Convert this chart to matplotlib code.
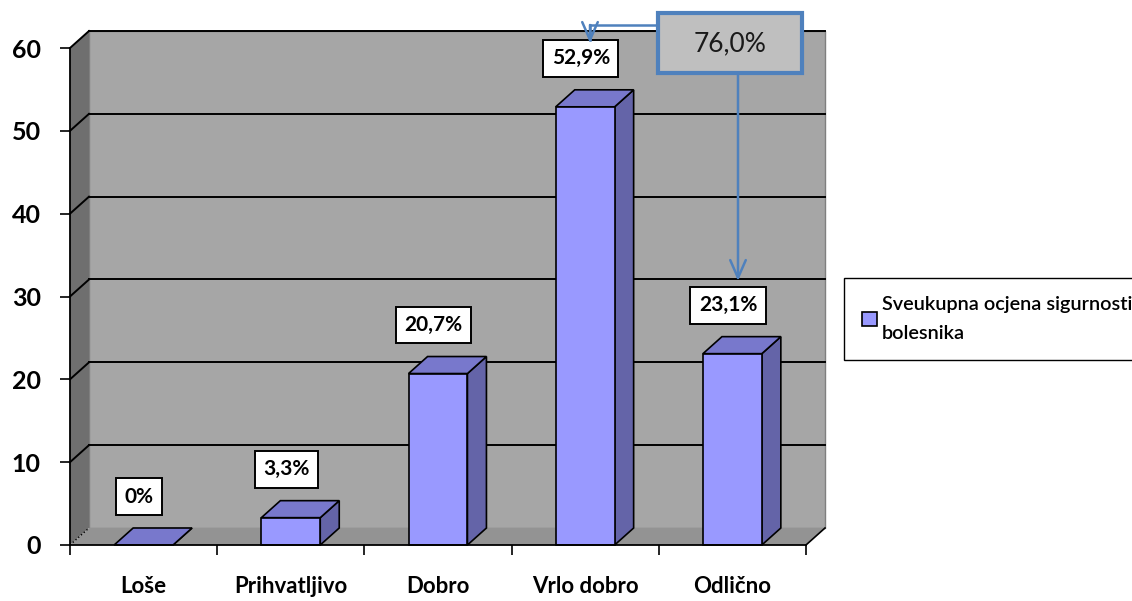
import matplotlib
matplotlib.use("Agg")
import matplotlib.pyplot as plt
from matplotlib.patches import Polygon, Rectangle, Patch
from matplotlib.lines import Line2D

plt.rcParams['font.family'] = ['Lato', 'DejaVu Sans']

categories = ['Loše', 'Prihvatljivo', 'Dobro', 'Vrlo dobro', 'Odlično']
values = [0.0, 3.3, 20.7, 52.9, 23.1]
value_labels = ['0%', '3,3%', '20,7%', '52,9%', '23,1%']
y_ticks = [0, 10, 20, 30, 40, 50, 60]
series_name = 'Sveukupna ocjena sigurnosti\nbolesnika'
callout_text = '76,0%'

W, H = 1132, 601
fig = plt.figure(figsize=(W / 100, H / 100), dpi=100)
fig.patch.set_facecolor('white')

# axes = front plane of the 3d box
ax = fig.add_axes([70 / W, 56 / H, 736 / W, 497 / H])
ax.set_xlim(0, 5)
ax.set_ylim(0, 60)
ax.patch.set_visible(False)

# depth offset of the 3d effect, in data units
DX = 19 / 147.2
DY = 17 / 8.283
ymax = y_ticks[-1]

# walls and floor
ax.add_patch(Polygon([(DX, DY), (5 + DX, DY), (5 + DX, ymax + DY), (DX, ymax + DY)],
                     closed=True, facecolor='#a6a6a6', edgecolor='#7f7f7f', lw=1,
                     clip_on=False, zorder=1))
ax.add_patch(Polygon([(0, 0), (DX, DY), (DX, ymax + DY), (0, ymax)],
                     closed=True, facecolor='#6f6f6f', edgecolor='none',
                     clip_on=False, zorder=1))
ax.add_patch(Polygon([(0, 0), (5, 0), (5 + DX, DY), (DX, DY)],
                     closed=True, facecolor='#939393', edgecolor='none',
                     clip_on=False, zorder=1))
ax.plot([5, 5 + DX], [0, DY], color='black', lw=1.2, clip_on=False, zorder=2)
ax.plot([0, DX], [0, DY], color='black', lw=1, ls=':', clip_on=False, zorder=2)

# gridlines on back wall and left wall
for t in y_ticks[1:]:
    ax.plot([DX, 5 + DX], [t + DY, t + DY], color='black', lw=1.4,
            clip_on=False, zorder=2)
    ax.plot([0, DX], [t, t + DY], color='black', lw=1.4, clip_on=False, zorder=2)

# bars
bw = 0.40
for i, v in enumerate(values):
    c = i + 0.5
    x0, x1 = c - bw / 2, c + bw / 2
    ax.add_patch(Polygon([(x1, 0), (x1 + DX, DY), (x1 + DX, v + DY), (x1, v)],
                         closed=True, facecolor='#6464a8', edgecolor='black', lw=1.2,
                         clip_on=False, zorder=3))
    ax.add_patch(Polygon([(x0, v), (x1, v), (x1 + DX, v + DY), (x0 + DX, v + DY)],
                         closed=True, facecolor='#7878cc', edgecolor='black', lw=1.2,
                         clip_on=False, zorder=3))
    if v > 0:
        ax.add_patch(Rectangle((x0, 0), bw, v, facecolor='#9999ff',
                               edgecolor='black', lw=1.2, clip_on=False, zorder=4))
    ax.text(c - 0.03, v + DY + 3.8, value_labels[i], ha='center', va='center',
            fontsize=15, fontweight='bold', color='black', zorder=6,
            bbox=dict(boxstyle='square,pad=0.4', facecolor='white',
                      edgecolor='black', lw=1.4))

# axes styling
for s in ['top', 'right']:
    ax.spines[s].set_visible(False)
ax.spines['left'].set_color('black')
ax.spines['bottom'].set_color('black')
ax.spines['left'].set_linewidth(1.3)
ax.spines['bottom'].set_linewidth(1.3)
ax.spines['left'].set_zorder(5)
ax.spines['bottom'].set_zorder(5)

ax.set_yticks(y_ticks)
ax.set_yticklabels([str(t) for t in y_ticks], fontsize=18, fontweight='bold')
ax.tick_params(axis='y', direction='out', length=7, width=1.2, pad=14)

ax.set_xticks(range(6))
ax.set_xticklabels([])
ax.set_xticks([i + 0.5 for i in range(5)], minor=True)
ax.set_xticklabels(categories, minor=True, fontsize=16, fontweight='bold')
ax.tick_params(axis='x', which='major', direction='out', length=7, width=1.2)
ax.tick_params(axis='x', which='minor', length=0, pad=22)

# legend
handle = Patch(facecolor='#9999ff', edgecolor='black', lw=1.2)
leg = fig.legend([handle], [series_name], loc='upper left',
                 bbox_to_anchor=(844 / W, 1 - 278 / H), fancybox=False,
                 edgecolor='black', framealpha=1,
                 prop={'weight': 'semibold', 'size': 14.3},
                 handlelength=0.75, handleheight=0.75, handletextpad=0.25,
                 borderpad=0.9, borderaxespad=0)
leg.get_frame().set_linewidth(1.0)
for t in leg.get_texts():
    t.set_linespacing(1.85)

# callout box with arrows (figure pixel positions)
def fx(px):
    return px / W

def fy(py):
    return 1 - py / H

blue = '#4f81bd'
fig.add_artist(Rectangle((fx(658), fy(73)), fx(802) - fx(658), fy(13) - fy(73),
                         transform=fig.transFigure, facecolor='#bfbfbf',
                         edgecolor=blue, lw=3, zorder=10))
fig.text(fx(730), fy(44), callout_text, ha='center', va='center',
         fontsize=19, color='#1a1a1a', zorder=11)

fig.add_artist(Line2D([fx(658), fx(590)], [fy(25), fy(25)],
                      transform=fig.transFigure, color=blue, lw=1.8, zorder=9))
fig.add_artist(Line2D([fx(590), fx(590)], [fy(25), fy(40)],
                      transform=fig.transFigure, color=blue, lw=1.8, zorder=9))
ax.annotate('', xy=(fx(590), fy(43)), xytext=(fx(590), fy(25)),
            xycoords='figure fraction', textcoords='figure fraction',
            arrowprops=dict(arrowstyle='->,head_length=0.8,head_width=0.35',
                            color=blue, lw=1.8, mutation_scale=16,
                            shrinkA=0, shrinkB=0), zorder=9)
ax.annotate('', xy=(fx(738), fy(281)), xytext=(fx(738), fy(75)),
            xycoords='figure fraction', textcoords='figure fraction',
            arrowprops=dict(arrowstyle='->,head_length=0.8,head_width=0.35',
                            color=blue, lw=1.8, mutation_scale=16,
                            shrinkA=0, shrinkB=0), zorder=9)

fig.savefig('out.png', dpi=100)
